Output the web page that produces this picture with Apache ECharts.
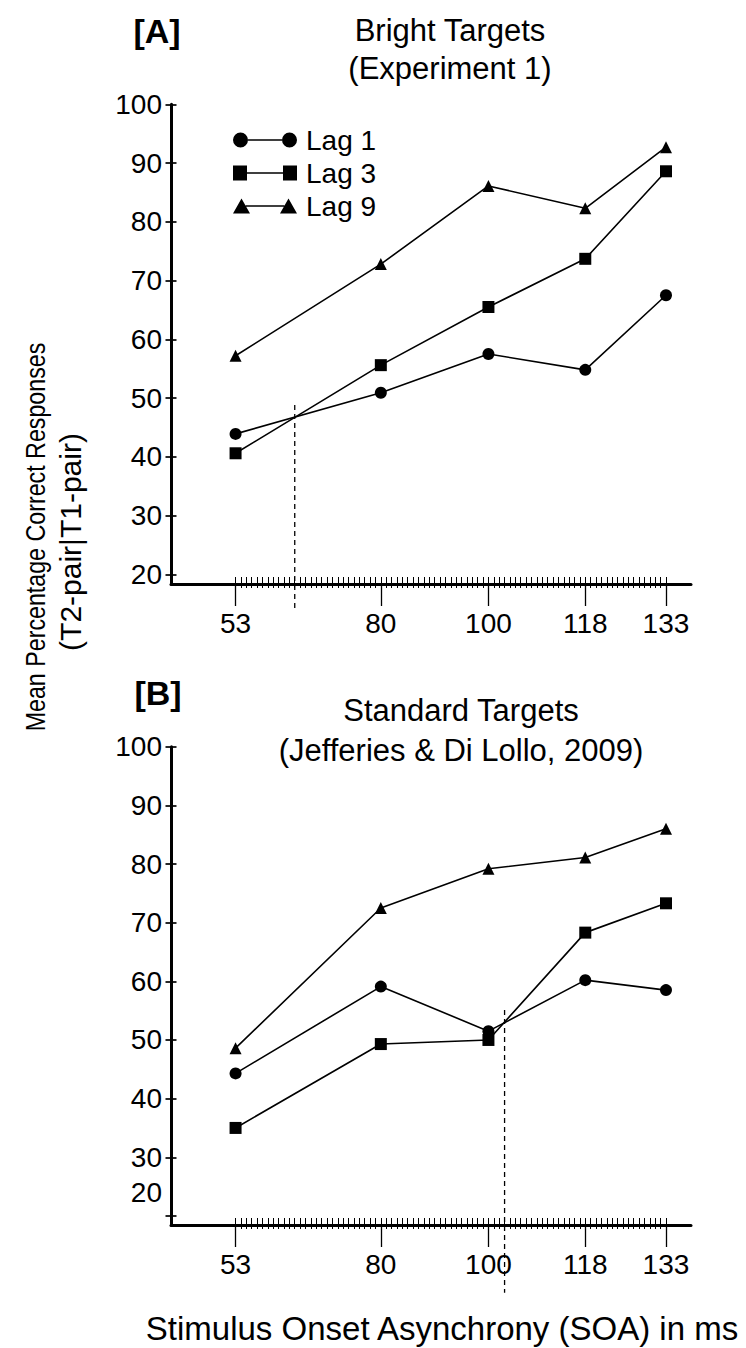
<!DOCTYPE html>
<html><head><meta charset="utf-8">
<script src="https://cdn.jsdelivr.net/npm/echarts@6/dist/echarts.min.js"></script>
<style>html,body{margin:0;padding:0;background:#fff}#c{width:746px;height:1348px}</style>
</head><body><div id="c"></div>
<script>
// ---- data ----
const soa = [53, 80, 100, 118, 133];
const xTickLabels = [53, 80, 100, 118, 133];
const yTickLabels = [20, 30, 40, 50, 60, 70, 80, 90, 100];
const seriesNames = ['Lag 1', 'Lag 3', 'Lag 9'];
const brightLag1 = [43.9, 50.9, 57.5, 54.8, 67.5];
const brightLag3 = [40.6, 55.6, 65.5, 73.7, 88.6];
const brightLag9 = [57.2, 72.8, 86.1, 82.3, 92.7];
const standardLag1 = [44.3, 59.1, 51.5, 60.2, 58.5];
const standardLag3 = [35.0, 49.3, 50.0, 68.3, 73.3];
const standardLag9 = [48.6, 72.5, 79.2, 81.1, 86.0];
const dashA = [[64, 48.8], [64, 13.9]];
const dashB = [[103, 55.1], [103, 6.9]];
const minorTickValues = [];
for (let v = 53; v <= 133; v++) minorTickValues.push(v);

// ---- styling ----
const FF = '"Liberation Sans", Arial, Helvetica, sans-serif';
const X_MIN = 41, X_MAX = 137.65;
const TICK_FS = 28;

function xAxes(g) {
  return [
    { type: 'value', gridIndex: g, min: X_MIN, max: X_MAX, position: 'bottom',
      axisLine: { show: true, lineStyle: { color: '#000', width: 3 } },
      axisTick: { show: true, customValues: xTickLabels, length: 22, lineStyle: { color: '#000', width: 1.3 } },
      axisLabel: { show: true, customValues: xTickLabels, margin: 39, verticalAlign: 'middle', fontSize: TICK_FS, color: '#000', fontFamily: FF },
      splitLine: { show: false } },
    { type: 'value', gridIndex: g, min: X_MIN, max: X_MAX, position: 'bottom',
      axisLine: { show: false },
      axisTick: { show: true, customValues: minorTickValues, inside: true, length: 7, lineStyle: { color: '#000', width: 1 } },
      axisLabel: { show: false }, splitLine: { show: false } },
    { type: 'value', gridIndex: g, min: X_MIN, max: X_MAX, position: 'bottom',
      axisLine: { show: false },
      axisTick: { show: true, customValues: minorTickValues, inside: false, length: 4, lineStyle: { color: '#000', width: 1 } },
      axisLabel: { show: false }, splitLine: { show: false } }
  ];
}
function yAxes(g, ymin, shift20) {
  return [
    { type: 'value', gridIndex: g, min: ymin, max: 100, position: 'left',
      axisLine: { show: true, lineStyle: { color: '#000', width: 3 } },
      axisTick: { show: true, customValues: yTickLabels, length: 5.5, lineStyle: { color: '#000', width: 1.7 } },
      axisLabel: { show: true, customValues: yTickLabels, margin: 9, fontSize: TICK_FS, color: '#000', fontFamily: FF,
        formatter: function (v) { return (shift20 && v === 20) ? '{up|20}' : String(v); },
        rich: { up: { fontSize: TICK_FS, color: '#000', fontFamily: FF, padding: [0, 0, 46, 0] } } },
      splitLine: { show: false } },
    { type: 'value', gridIndex: g, min: ymin, max: 100, position: 'left',
      axisLine: { show: false },
      axisTick: { show: true, customValues: yTickLabels, inside: true, length: 5.5, lineStyle: { color: '#000', width: 1.7 } },
      axisLabel: { show: false }, splitLine: { show: false } }
  ];
}

const symbols = ['circle', 'rect', 'triangle'];
const symbolSizes = [12, 12, 12];
function dataSeries(name, idx, vals, xi, yi) {
  return { name: name, type: 'line', xAxisIndex: xi, yAxisIndex: yi,
    data: soa.map((x, i) => [x, vals[i]]),
    symbol: symbols[idx], symbolSize: symbolSizes[idx], showSymbol: true,
    itemStyle: { color: '#000' }, lineStyle: { color: '#000', width: 1.6 },
    emphasis: { disabled: true }, z: 3 + idx };
}
function dashSeries(pts, xi, yi) {
  return { type: 'line', xAxisIndex: xi, yAxisIndex: yi, data: pts, symbol: 'none', clip: false,
    lineStyle: { color: '#000', width: 1.3, type: [5, 4] }, emphasis: { disabled: true }, z: 2, silent: true };
}

const icons = [
  'path://M0,7.5A7.5,7.5 0 1,0 15,7.5A7.5,7.5 0 1,0 0,7.5Z M49,7.5A7.5,7.5 0 1,0 64,7.5A7.5,7.5 0 1,0 49,7.5Z M15,6.7L49,6.7L49,8.3L15,8.3Z',
  'path://M0,0L14,0L14,15L0,15Z M50,0L64,0L64,15L50,15Z M14,6.7L50,6.7L50,8.3L14,8.3Z',
  'path://M0,15L8.5,0L17,15Z M47,15L55.5,0L64,15Z M12.7,6.7L51.3,6.7L51.3,8.3L12.7,8.3Z'
];

const chart = echarts.init(document.getElementById('c'), null, { renderer: 'svg' });
chart.setOption({
  animation: false,
  backgroundColor: '#fff',
  textStyle: { fontFamily: FF },
  grid: [
    { left: 171, top: 104.3, width: 520, height: 479.7 },
    { left: 171, top: 746.7, width: 520, height: 478.3 }
  ],
  xAxis: xAxes(0).concat(xAxes(1)),
  yAxis: yAxes(0, 18.35, false).concat(yAxes(1, 18.45, true)),
  legend: {
    orient: 'vertical', left: 228, top: 121, itemWidth: 64, itemHeight: 15, itemGap: 5,
    selectedMode: false,
    textStyle: { fontSize: 28, color: '#000', fontFamily: FF, padding: [0, 0, 0, 4] },
    data: seriesNames.map((n, i) => ({ name: n, icon: icons[i], itemStyle: { color: '#000' } }))
  },
  series: [
    dataSeries(seriesNames[0], 0, brightLag1, 0, 0),
    dataSeries(seriesNames[1], 1, brightLag3, 0, 0),
    dataSeries(seriesNames[2], 2, brightLag9, 0, 0),
    dashSeries(dashA, 0, 0),
    dataSeries(seriesNames[0], 0, standardLag1, 3, 2),
    dataSeries(seriesNames[1], 1, standardLag3, 3, 2),
    dataSeries(seriesNames[2], 2, standardLag9, 3, 2),
    dashSeries(dashB, 3, 2)
  ],
  graphic: [
    { type: 'text', x: 157, y: 31, style: { text: '[A]', fontSize: 34, fontWeight: 'bold', fontFamily: FF, fill: '#000', align: 'center', verticalAlign: 'middle' } },
    { type: 'text', x: 450, y: 30, style: { text: 'Bright Targets', fontSize: 31, fontFamily: FF, fill: '#000', align: 'center', verticalAlign: 'middle' } },
    { type: 'text', x: 450, y: 68, style: { text: '(Experiment 1)', fontSize: 31, fontFamily: FF, fill: '#000', align: 'center', verticalAlign: 'middle' } },
    { type: 'text', x: 158, y: 693, style: { text: '[B]', fontSize: 34, fontWeight: 'bold', fontFamily: FF, fill: '#000', align: 'center', verticalAlign: 'middle' } },
    { type: 'text', x: 461, y: 710, style: { text: 'Standard Targets', fontSize: 31, fontFamily: FF, fill: '#000', align: 'center', verticalAlign: 'middle' } },
    { type: 'text', x: 461, y: 750, style: { text: '(Jefferies & Di Lollo, 2009)', fontSize: 31, fontFamily: FF, fill: '#000', align: 'center', verticalAlign: 'middle' } },
    { type: 'text', x: 35, y: 537, rotation: Math.PI / 2, scaleX: 0.83, style: { text: 'Mean Percentage Correct Responses', fontSize: 28, fontFamily: FF, fill: '#000', align: 'center', verticalAlign: 'middle' } },
    { type: 'text', x: 70, y: 542, rotation: Math.PI / 2, style: { text: '(T2-pair|T1-pair)', fontSize: 30, fontFamily: FF, fill: '#000', align: 'center', verticalAlign: 'middle' } },
    { type: 'text', x: 442, y: 1328, style: { text: 'Stimulus Onset Asynchrony (SOA) in ms', fontSize: 33, fontFamily: FF, fill: '#000', align: 'center', verticalAlign: 'middle' } }
  ]
});
</script></body></html>
